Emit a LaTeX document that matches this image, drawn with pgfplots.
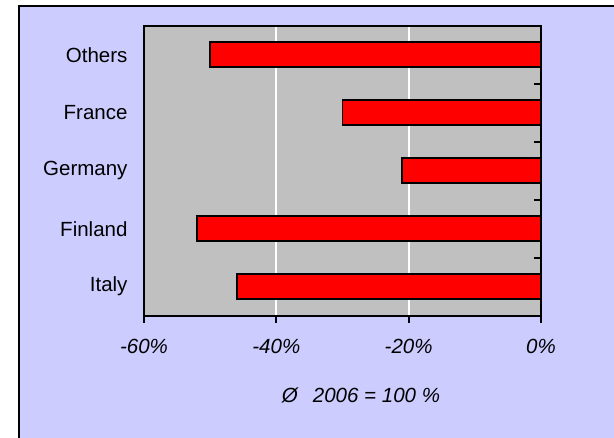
\documentclass[border=0pt]{standalone}
\usepackage{fontspec}
\setmainfont{Liberation Sans}
\usepackage{pgfplots}
\pgfplotsset{compat=1.18}
\definecolor{panel}{HTML}{CCCCFF}
\definecolor{plotbg}{HTML}{C0C0C0}
\definecolor{barred}{HTML}{FF0000}
\newcommand{\chartfont}{\fontsize{20.5}{24}\selectfont}

\begin{document}
\begin{tikzpicture}[x=1pt,y=1pt]
\path[use as bounding box] (0,0) rectangle (614,-438);
\fill[white] (0,0) rectangle (614,-438);
\fill[panel] (19,-6) rectangle (614,-438);
\draw[line width=1.6pt] (19,-438) -- (19,-6) -- (614,-6);
\begin{axis}[
  at={(144pt,-315.7pt)}, anchor=south west,
  scale only axis, width=397pt, height=290pt,
  xbar, bar width=25pt,
  xmin=-60, xmax=0, ymin=-0.5, ymax=4.5,
  axis background/.style={fill=plotbg},
  clip=false,
  xtick={-60,-40,-20,0},
  xticklabels={-60\%,-40\%,-20\%,0\%},
  xticklabel style={font=\chartfont\itshape, yshift=-13pt},
  ytick={0,...,4},
  yticklabels={Italy,Finland,Germany,France,Others},
  yticklabel style={font=\chartfont, xshift=-6pt},
  tick align=outside, major tick length=7pt,
  xtick pos=lower,
  xtick style={draw=none},
  ytick style={draw=none},
  xmajorgrids, major grid style={white, line width=2pt},
]
\addplot[fill=barred, draw=black, line width=1.8pt]
  coordinates {(-46,0) (-52,1) (-21,2) (-30,3) (-50,4)};
% plot frame
\draw[line width=2pt] (rel axis cs:0,0) rectangle (rel axis cs:1,1);
% tick marks below the value axis
\pgfplotsinvokeforeach{-60,-40,-20,0}{
  \draw[line width=1.8pt] (axis cs:#1,-0.5) -- ++(0pt,-7pt);
}
% category separators on the right edge, pointing inward
\pgfplotsinvokeforeach{0.5,1.5,2.5,3.5,4.5}{
  \draw[line width=1.8pt] (axis cs:0,#1) -- ++(-7pt,0pt);
}
\end{axis}
\node[font=\chartfont\itshape] at (361,-395) {Ø\hspace{15pt}2006 = 100 \%};
\end{tikzpicture}
\end{document}
